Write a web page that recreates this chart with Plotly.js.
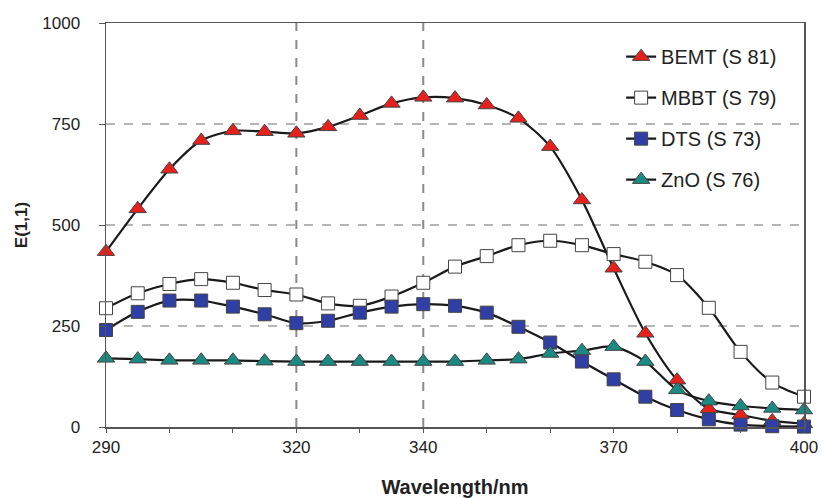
<!DOCTYPE html>
<html>
<head>
<meta charset="utf-8">
<script src="https://cdn.plot.ly/plotly-3.0.1.min.js"></script>
<style>html,body{margin:0;padding:0;background:#fff;}#chart{width:824px;height:498px;}</style>
</head>
<body>
<div id="chart"></div>
<script>
const wavelength = [290,295,300,305,310,315,320,325,330,335,340,345,350,355,360,365,370,375,380,385,390,395,400];
const bemt = [434,540,638,709,733,731,727,743,771,801,816,814,797,764,694,562,393,232,116,45,30,15,8];
const mbbt = [294,331,354,366,357,339,328,306,300,323,357,397,423,450,461,450,428,409,376,295,186,110,75];
const dts  = [240,285,313,313,298,279,257,263,283,298,304,300,283,248,209,162,118,75,42,19,6,2,1];
const zno  = [170,168,165,165,165,163,162,162,162,162,162,162,165,168,182,189,199,162,92,64,52,46,42];
const seriesNames = ["BEMT (S 81)","MBBT (S 79)","DTS (S 73)","ZnO (S 76)"];
const xTickVals = [290,300,310,320,330,340,350,360,370,380,390,400];
const xTickText = ["290","","","320","","340","","","370","","","400"];
const yTickVals = [0,250,500,750,1000];
const vGrid = [320,340];

function tr(y, name, symbol, fill, size){
  return {x: wavelength, y: y, name: name, type:'scatter', mode:'lines+markers',
    legendgroup: name, cliponaxis:false,
    line:{color:'#1a1a1a', width:2.2, shape:'spline', smoothing:0.8},
    marker:{symbol:symbol, size:size, color:fill, line:{color:'#444', width:1}}};
}
const data = [
  tr(bemt, seriesNames[0], 'triangle-up', '#e8201c', 15),
  tr(mbbt, seriesNames[1], 'square', '#ffffff', 13),
  tr(dts,  seriesNames[2], 'square', '#2f3fa6', 13),
  tr(zno,  seriesNames[3], 'triangle-up', '#1a8a82', 15)
];
const shapes = vGrid.map(v => ({type:'line', xref:'x', yref:'paper', x0:v, x1:v, y0:0, y1:1,
  line:{color:'#8a8a8a', width:2, dash:'dash'}, layer:'below'}));
const layout = {
  width:824, height:498,
  margin:{l:106, r:20, t:23, b:71},
  paper_bgcolor:'#ffffff', plot_bgcolor:'#ffffff',
  font:{family:'Liberation Sans, Arial, sans-serif', size:17, color:'#222'},
  showlegend:true,
  legend:{x:0.738, y:0.965, xanchor:'left', yanchor:'top', bgcolor:'rgba(0,0,0,0)',
    font:{size:20, color:'#222'}, tracegroupgap:12, itemwidth:30},
  xaxis:{range:[290,400], tickvals:xTickVals, ticktext:xTickText, ticks:'outside', ticklen:4,
    tickcolor:'#555', showline:true, linecolor:'#555', linewidth:1.5, mirror:true,
    showgrid:false, zeroline:false, tickfont:{size:17},
    title:{text:'<b>Wavelength/nm</b>', font:{size:20}, standoff:26}},
  yaxis:{range:[0,1000], tickvals:yTickVals, ticks:'outside', ticklen:6, tickcolor:'#555',
    showline:true, linecolor:'#555', linewidth:1.5, mirror:true,
    showgrid:true, gridcolor:'#b5b5b5', gridwidth:1.5, griddash:'dash', zeroline:false,
    tickfont:{size:17}, ticklabelstandoff:15,
    title:{text:'<b>E(1,1)</b>', font:{size:17}, standoff:10}},
  shapes: shapes
};
Plotly.newPlot('chart', data, layout, {displayModeBar:false, staticPlot:true});
</script>
</body>
</html>
